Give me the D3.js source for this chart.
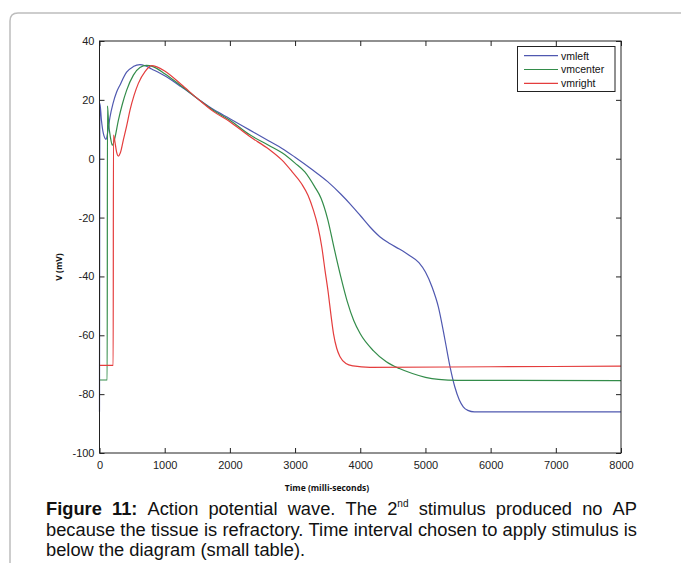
<!DOCTYPE html>
<html>
<head>
<meta charset="utf-8">
<script src="https://cdn.jsdelivr.net/npm/d3@7/dist/d3.min.js"></script>
<style>
  html, body { margin: 0; padding: 0; background: #fff; }
  svg { display: block; }
  .tick text { font-family: "Liberation Sans", Arial, sans-serif; font-size: 11px; fill: #222; }
  .tick line { stroke: #222; }
</style>
</head>
<body>
<svg id="chart" width="681" height="563"></svg>
<script>
// Membrane potential traces (time in ms, potential in mV)
const vmleftT = [0, 6, 30, 60, 100, 130, 160, 210, 260, 313, 416, 518, 620, 700, 800, 1000, 1250, 1500, 1750, 2000, 2300, 2600, 2800, 3000, 3250, 3500, 3700, 3850, 4000, 4150, 4300, 4450, 4600, 4750, 4900, 5000, 5100, 5200, 5300, 5380, 5450, 5520, 5580, 5650, 5750, 8000];
const vmleftV = [-86, 18.8, 13, 8.5, 6.6, 9.5, 14, 19, 22.5, 25, 29.4, 31.3, 32, 31.6, 30.5, 28.2, 24.5, 20.5, 16.7, 13.6, 9.8, 6, 3.5, 0.5, -3.5, -7.8, -12, -15.5, -19.3, -23.2, -26.5, -28.8, -30.7, -32.8, -35.3, -38.5, -43.5, -50.5, -61.6, -71, -77.5, -82, -84.3, -85.5, -86, -86];

const vmcenterT = [0, 118, 122, 140, 170, 197, 230, 290, 350, 417, 520, 620, 720, 820, 1000, 1250, 1500, 1750, 2000, 2300, 2600, 2800, 3000, 3150, 3300, 3400, 3500, 3600, 3700, 3800, 3900, 4000, 4200, 4400, 4600, 4800, 5000, 5200, 5500, 8000];
const vmcenterV = [-75.2, -75.2, 18, 12, 7, 4.6, 6.5, 13.1, 18.5, 23.3, 28.4, 31, 31.7, 31.3, 28.9, 24.8, 20.5, 16.4, 13.1, 8.2, 4.5, 2, -1.5, -4.5, -9.5, -13.5, -20.5, -30.5, -40, -48.5, -55, -59.5, -65.2, -69, -71.3, -73, -74.3, -75, -75.3, -75.4];

const vmrightT = [0, 210, 214, 235, 260, 290, 320, 366, 420, 468, 530, 596, 698, 800, 880, 1000, 1250, 1500, 1750, 2000, 2300, 2600, 2800, 2950, 3100, 3200, 3280, 3350, 3410, 3460, 3510, 3550, 3590, 3640, 3690, 3780, 3890, 4150, 6000, 8000];
const vmrightV = [-70.2, -70.2, 8, 6, 2.5, 0.9, 2, 6.4, 11.5, 16.5, 21.5, 25.6, 29.6, 31.6, 31.2, 29.8, 25.3, 20.5, 16, 12.6, 7.6, 3.2, -0.5, -4.3, -8.5, -12.5, -17.4, -23, -30, -38, -45.7, -53, -59.5, -64.5, -67.3, -69.6, -70.4, -70.9, -70.7, -70.5];

const seriesNames = ["vmleft", "vmcenter", "vmright"];
const seriesColors = ["#4f58b0", "#338c4a", "#e43d3d"];

const xTicks = [0, 1000, 2000, 3000, 4000, 5000, 6000, 7000, 8000];
const yTicks = [-100, -80, -60, -40, -20, 0, 20, 40];

const xLabel = "Time (milli-seconds)";
const yLabel = "V (mV)";

const series = [
  { name: seriesNames[0], color: seriesColors[0], pts: vmleftT.map((t, i) => [t, vmleftV[i]]) },
  { name: seriesNames[1], color: seriesColors[1], pts: vmcenterT.map((t, i) => [t, vmcenterV[i]]) },
  { name: seriesNames[2], color: seriesColors[2], pts: vmrightT.map((t, i) => [t, vmrightV[i]]) }
];

const svg = d3.select("#chart");

// outer frame around figure + caption
svg.append("path")
  .attr("d", "M10,600 L10,21 Q10,13 18,13 L700,13")
  .attr("fill", "none")
  .attr("stroke", "#bdbdbd")
  .attr("stroke-width", 1.5);

const x = d3.scaleLinear().domain([0, 8000]).range([99.5, 621]);
const y = d3.scaleLinear().domain([-100, 40]).range([453, 41]);

const plot = svg.append("g");

// traces
const line = d3.line().x(d => x(d[0])).y(d => y(d[1])).curve(d3.curveMonotoneX);
plot.selectAll("path.trace")
  .data(series)
  .join("path")
  .attr("class", "trace")
  .attr("d", d => line(d.pts))
  .attr("fill", "none")
  .attr("stroke", d => d.color)
  .attr("stroke-width", 1.2);

// plain hyphen-minus tick labels
const fmt = d => String(d);

// axes with inward ticks (box style)
const gx = svg.append("g").attr("transform", "translate(0,453)")
  .call(d3.axisBottom(x).tickValues(xTicks).tickSize(-5).tickPadding(8).tickFormat(fmt));
const gxTop = svg.append("g").attr("transform", "translate(0,41)")
  .call(d3.axisTop(x).tickValues(xTicks).tickSize(-5).tickFormat(""));
const gy = svg.append("g").attr("transform", "translate(99.5,0)")
  .call(d3.axisLeft(y).tickValues(yTicks).tickSize(-5).tickPadding(5).tickFormat(fmt));
const gyRight = svg.append("g").attr("transform", "translate(621,0)")
  .call(d3.axisRight(y).tickValues(yTicks).tickSize(-5).tickFormat(""));
[gx, gxTop, gy, gyRight].forEach(g => g.select(".domain").remove());

svg.append("rect")
  .attr("x", 99.5).attr("y", 41)
  .attr("width", 621 - 99.5).attr("height", 453 - 41)
  .attr("fill", "none").attr("stroke", "#222").attr("stroke-width", 1);

// axis titles
svg.append("text")
  .attr("x", 327).attr("y", 491)
  .attr("text-anchor", "middle")
  .attr("font-family", "'Open Sans', 'Liberation Sans', sans-serif")
  .attr("font-weight", "bold")
  .attr("font-size", 8.5)
  .attr("fill", "#111")
  .text(xLabel);

svg.append("text")
  .attr("transform", "translate(62,267) rotate(-90)")
  .attr("text-anchor", "middle")
  .attr("font-family", "'Open Sans', 'Liberation Sans', sans-serif")
  .attr("font-weight", "bold")
  .attr("font-size", 8.5)
  .attr("fill", "#111")
  .text(yLabel);

// legend
const lg = svg.append("g");
lg.append("rect")
  .attr("x", 517.5).attr("y", 46.5).attr("width", 97.5).attr("height", 45)
  .attr("fill", "#fff").attr("stroke", "#222").attr("stroke-width", 1);
const rows = lg.selectAll("g.row").data(series).join("g")
  .attr("class", "row")
  .attr("transform", (d, i) => `translate(0,${55.7 + i * 13.8})`);
rows.append("line")
  .attr("x1", 524).attr("x2", 558).attr("y1", 0).attr("y2", 0)
  .attr("stroke", d => d.color).attr("stroke-width", 1.2);
rows.append("text")
  .attr("x", 561).attr("y", 3.8)
  .attr("font-family", "'Liberation Sans', Arial, sans-serif")
  .attr("font-size", 10.5)
  .attr("fill", "#111")
  .text(d => d.name);

// caption, justified between left and right margins
const capLeft = 46, capRight = 637, capSize = 18.3;
const capLines = [
  { y: 515, justify: true, words: [
    [{ t: "Figure", b: true }], [{ t: "11:", b: true }], [{ t: "Action" }], [{ t: "potential" }], [{ t: "wave." }],
    [{ t: "The" }], [{ t: "2" }, { t: "nd", sup: true }], [{ t: "stimulus" }], [{ t: "produced" }], [{ t: "no" }], [{ t: "AP" }]
  ] },
  { y: 535.5, justify: true, words: "because the tissue is refractory. Time interval chosen to apply stimulus is".split(" ").map(w => [{ t: w }]) },
  { y: 556, justify: false, words: "below the diagram (small table).".split(" ").map(w => [{ t: w }]) }
];

const cap = svg.append("g")
  .attr("font-family", "'Liberation Sans', Arial, sans-serif")
  .attr("fill", "#111");

capLines.forEach(ln => {
  const wordNodes = ln.words.map(segs => {
    const t = cap.append("text").attr("y", ln.y).attr("font-size", capSize);
    segs.forEach(s => {
      const ts = t.append("tspan").text(s.t);
      if (s.b) ts.attr("font-weight", "bold");
      if (s.sup) ts.attr("font-size", capSize * 0.55).attr("dy", -capSize * 0.42);
    });
    return t;
  });
  const widths = wordNodes.map(n => n.node().getComputedTextLength());
  const total = d3.sum(widths);
  const spaceW = capSize * 0.278;
  const gap = ln.justify ? (capRight - capLeft - total) / (wordNodes.length - 1) : spaceW;
  let cx = capLeft;
  wordNodes.forEach((n, i) => {
    n.attr("x", cx);
    cx += widths[i] + gap;
  });
});
</script>
</body>
</html>
